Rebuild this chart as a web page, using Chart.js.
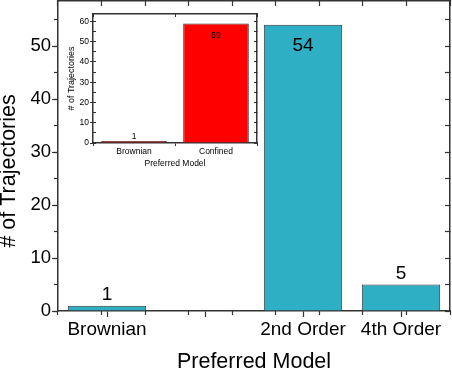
<!DOCTYPE html>
<html>
<head>
<meta charset="utf-8">
<script src="https://cdn.jsdelivr.net/npm/chart.js@4/dist/chart.umd.min.js"></script>
<style>
  html, body { margin: 0; padding: 0; background: #fff; }
  #wrap { position: relative; width: 452px; height: 371px; }
  #main-chart { position: absolute; left: 0; top: 0; }
  #inset-chart { position: absolute; left: 60px; top: 4px; }
</style>
</head>
<body>
<div id="wrap">
  <canvas id="main-chart" width="452" height="371"></canvas>
  <canvas id="inset-chart" width="201" height="172"></canvas>
</div>
<script>
// main chart data
const categories = ["Brownian", "", "2nd Order", "4th Order"];
const counts = [1, null, 54, 5];
const yMax = 58.5;

// inset data
const insetCategories = ["Brownian", "Confined"];
const insetCounts = [1, 59];
const insetYMax = 63.7;

const fontFamily = "'Liberation Sans', Arial, sans-serif";
const axisColor = "#333";

// writes the value over (or inside the top of) each bar
const barLabels = {
    id: "barLabels",
    afterDatasetsDraw(chart, args, opts) {
        const ctx = chart.ctx;
        const meta = chart.getDatasetMeta(0);
        const values = chart.data.datasets[0].data;
        ctx.save();
        ctx.font = opts.size + "px " + fontFamily;
        ctx.fillStyle = "#000";
        ctx.textAlign = "center";
        ctx.textBaseline = "alphabetic";
        meta.data.forEach((bar, i) => {
            const v = values[i];
            if (v == null) return;
            const y = v > opts.insideFrom ? bar.y + opts.inside : bar.y - opts.above;
            ctx.fillText(String(v), bar.x, y);
        });
        ctx.restore();
    }
};

// fixed axis box size, no extra label padding
function fixSize(w, h) {
    return s => {
        if (w != null) s.width = w;
        if (h != null) s.height = h;
        s.paddingTop = 0; s.paddingBottom = 0;
        s.paddingLeft = 0; s.paddingRight = 0;
    };
}

function frameAxis(extra) {
    return Object.assign({
        grid: { drawOnChartArea: false, color: axisColor, tickColor: axisColor, tickWidth: 1.2 },
        border: { display: true, color: axisColor, width: 1.5 }
    }, extra);
}

new Chart(document.getElementById("main-chart").getContext("2d"), {
    type: "bar",
    data: {
        labels: categories,
        datasets: [{
            data: counts,
            backgroundColor: "#2EAFC4",
            borderColor: "#333",
            borderWidth: 1,
            barPercentage: 0.8,
            categoryPercentage: 1.0
        }]
    },
    options: {
        responsive: false,
        animation: false,
        layout: { padding: 0 },
        plugins: {
            legend: { display: false },
            tooltip: { enabled: false },
            barLabels: { size: 19, insideFrom: 30, inside: 26, above: 6 }
        },
        scales: {
            x: frameAxis({
                type: "category", position: "bottom", weight: 1, offset: true,
                grid: { drawOnChartArea: false, offset: false, tickLength: 6, tickColor: axisColor, tickWidth: 1.2 },
                ticks: { color: "#000", font: { family: fontFamily, size: 19 }, padding: 1, maxRotation: 0, autoSkip: false },
                title: { display: true, text: "Preferred Model", color: "#000", font: { family: fontFamily, size: 21.5, lineHeight: 1 }, padding: { top: 0, bottom: -1.5 } },
                afterFit: fixSize(null, 60)
            }),
            xMinor: {
                type: "linear", position: "bottom", weight: 0, min: -0.5, max: 3.5,
                ticks: { display: false, stepSize: 0.5 },
                grid: { drawOnChartArea: false, tickLength: 4, tickColor: axisColor, tickWidth: 1.2 },
                border: { display: false },
                afterFit: fixSize(null, 0)
            },
            xTop: frameAxis({
                type: "linear", position: "top", min: -0.5, max: 3.5,
                ticks: { display: false, stepSize: 0.5 },
                grid: { drawOnChartArea: false, tickLength: -5, tickColor: axisColor, tickWidth: 1.2 },
                afterFit: fixSize(null, 1)
            }),
            y: frameAxis({
                type: "linear", position: "left", weight: 1, min: 0, max: yMax,
                grid: { drawOnChartArea: false, tickLength: 6, tickColor: axisColor, tickWidth: 1.2 },
                ticks: { stepSize: 10, includeBounds: false, color: "#000", font: { family: fontFamily, size: 18.5 }, padding: 1 },
                title: { display: true, text: "# of Trajectories     ", color: "#000", font: { family: fontFamily, size: 21.5, lineHeight: 1 }, padding: { top: -2, bottom: 0 } },
                afterFit: fixSize(58, null)
            }),
            yMinor: {
                type: "linear", position: "left", weight: 0, min: 0, max: yMax,
                ticks: { display: false, stepSize: 5, includeBounds: false },
                grid: { drawOnChartArea: false, tickLength: 4, tickColor: axisColor, tickWidth: 1.2 },
                border: { display: false },
                afterFit: fixSize(0, null)
            },
            yRight: frameAxis({
                type: "linear", position: "right", min: 0, max: yMax,
                ticks: { display: false, stepSize: 5, includeBounds: false },
                grid: { drawOnChartArea: false, tickLength: -5, tickColor: axisColor, tickWidth: 1.2 },
                afterFit: fixSize(2, null)
            })
        }
    },
    plugins: [barLabels]
});

new Chart(document.getElementById("inset-chart").getContext("2d"), {
    type: "bar",
    data: {
        labels: insetCategories,
        datasets: [{
            data: insetCounts,
            backgroundColor: "#FF0000",
            borderColor: "#333",
            borderWidth: 1,
            barPercentage: 0.8,
            categoryPercentage: 1.0
        }]
    },
    options: {
        responsive: false,
        animation: false,
        layout: { padding: 0 },
        plugins: {
            legend: { display: false },
            tooltip: { enabled: false },
            barLabels: { size: 8.5, insideFrom: 30, inside: 14.5, above: 2 }
        },
        scales: {
            x: frameAxis({
                type: "category", position: "bottom", offset: true,
                grid: { drawOnChartArea: false, offset: true, tickLength: 3, tickColor: axisColor, tickWidth: 1 },
                ticks: { color: "#000", font: { family: fontFamily, size: 8.5 }, padding: 1, maxRotation: 0, autoSkip: false },
                title: { display: true, text: "Preferred Model", color: "#000", font: { family: fontFamily, size: 8.5, lineHeight: 1 }, padding: { top: 0, bottom: 8 } },
                afterFit: fixSize(null, 33)
            }),
            xTop: frameAxis({
                type: "category", position: "top", offset: true,
                grid: { drawOnChartArea: false, offset: true, tickLength: -3, tickColor: axisColor, tickWidth: 1 },
                ticks: { display: false },
                afterFit: fixSize(null, 10)
            }),
            y: frameAxis({
                type: "linear", position: "left", weight: 1, min: 0, max: insetYMax,
                grid: { drawOnChartArea: false, tickLength: 3, tickColor: axisColor, tickWidth: 1 },
                ticks: { stepSize: 10, includeBounds: false, color: "#000", font: { family: fontFamily, size: 8.5 }, padding: 1 },
                title: { display: true, text: "# of Trajectories", color: "#000", font: { family: fontFamily, size: 9, lineHeight: 1 }, padding: { top: 7, bottom: 0 } },
                afterFit: fixSize(33, null)
            }),
            yMinor: {
                type: "linear", position: "left", weight: 0, min: 0, max: insetYMax,
                ticks: { display: false, stepSize: 5, includeBounds: false },
                grid: { drawOnChartArea: false, tickLength: -3, tickColor: axisColor, tickWidth: 1 },
                border: { display: false },
                afterFit: fixSize(0, null)
            },
            yRight: frameAxis({
                type: "linear", position: "right", min: 0, max: insetYMax,
                ticks: { display: false, stepSize: 5, includeBounds: false },
                grid: { drawOnChartArea: false, tickLength: -3, tickColor: axisColor, tickWidth: 1 },
                afterFit: fixSize(4, null)
            })
        }
    },
    plugins: [barLabels]
});
</script>
</body>
</html>
